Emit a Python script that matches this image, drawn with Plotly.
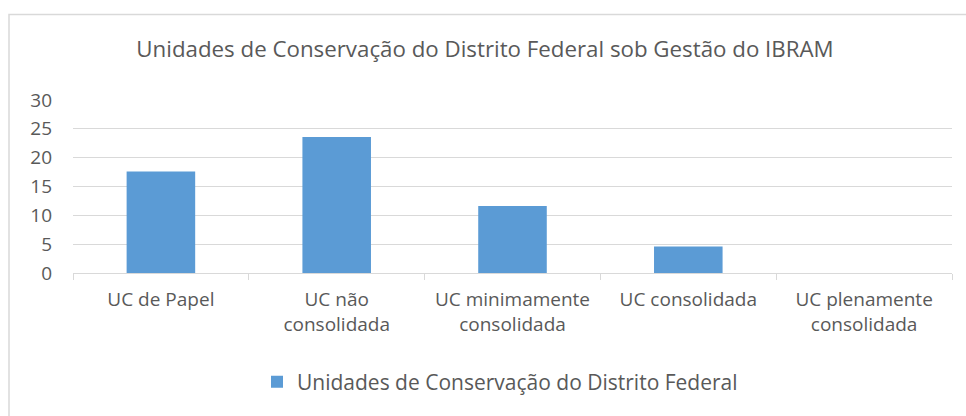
import plotly.graph_objects as go

categories = ["UC de Papel", "UC não<br>consolidada", "UC minimamente<br>consolidada",
              "UC consolidada", "UC plenamente<br>consolidada"]
values = [17.6, 23.6, 11.6, 4.6, 0]
series_name = "Unidades de Conservação do Distrito Federal"
title_text = "Unidades de Conservação do Distrito Federal sob Gestão do IBRAM"
y_ticks = [0, 5, 10, 15, 20, 25, 30]

FONT = "Open Sans"
TXT = "#595959"
GRID = "#D9D9D9"

fig = go.Figure()
fig.add_trace(go.Bar(x=categories, y=values, name=series_name,
                     marker=dict(color="#5B9BD5", line=dict(width=0))))

W, H = 966, 416
L, R, T, B = 73, 14, 100, 143
pw, ph = W - L - R, H - T - B

def px_x(x):
    return (x - L) / pw

def px_y(y):
    return (H - B - y) / ph

fig.update_layout(
    width=W, height=H,
    margin=dict(l=L, r=R, t=T, b=B, autoexpand=False),
    paper_bgcolor="white", plot_bgcolor="white",
    font=dict(family=FONT, color=TXT, size=18),
    bargap=0.61,
    showlegend=True,
    title=dict(text=title_text, x=485 / W, xref="container", xanchor="center",
               y=1 - 49 / H, yref="container", yanchor="middle",
               font=dict(family=FONT, size=22.3, color=TXT)),
    legend=dict(orientation="h", x=px_x(500), xanchor="center",
                y=px_y(382), yanchor="middle",
                font=dict(family=FONT, size=21, color=TXT),
                itemsizing="constant"),
    xaxis=dict(type="category", showline=True, linecolor=GRID, linewidth=1,
               ticks="outside", tickson="boundaries", ticklen=6, tickcolor=GRID,
               ticklabelstandoff=9,
               showgrid=False, tickfont=dict(family=FONT, size=19, color=TXT),
               fixedrange=True),
    yaxis=dict(range=[0, 30], tickvals=y_ticks, showgrid=True, gridcolor=GRID,
               gridwidth=1, zeroline=False, showline=False, ticks="",
               ticklabelstandoff=20,
               tickfont=dict(family=FONT, size=19, color=TXT), fixedrange=True),
    shapes=[dict(type="rect", xref="paper", yref="paper",
                 x0=px_x(9), x1=px_x(980), y0=px_y(14.5), y1=px_y(430),
                 line=dict(color=GRID, width=1.5), fillcolor="rgba(0,0,0,0)",
                 layer="below")],
)

fig.write_html("out.html", config={"displayModeBar": False},
               post_script="document.body.style.margin='0';")
